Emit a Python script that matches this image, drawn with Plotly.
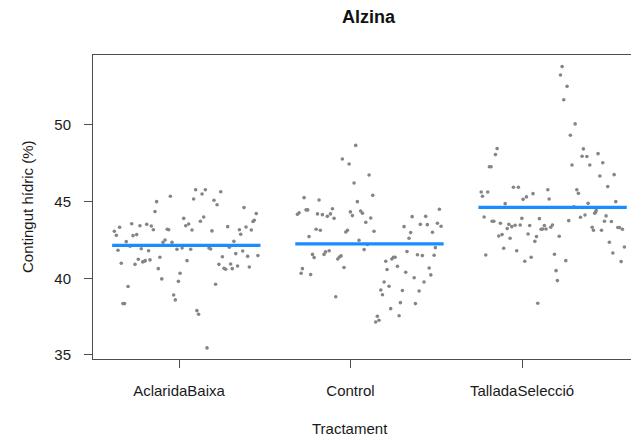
import plotly.graph_objects as go

categories = ["AclaridaBaixa", "Control", "TalladaSelecció"]

# Contingut hídric (%) per tractament
vals_aclarida = [43.07, 42.80, 43.33, 41.83, 40.98, 38.35, 38.35, 42.39, 39.46, 42.09,
                 43.56, 42.78, 40.91, 42.85, 41.24, 43.43, 41.93, 41.07, 41.11, 41.15,
                 43.52, 41.80, 41.20, 43.41, 43.17, 44.35, 45.00, 40.63, 41.37, 39.96,
                 42.35, 42.50, 43.20, 43.17, 45.35, 42.35, 38.91, 38.59, 41.89, 39.80,
                 40.33, 41.98, 43.91, 43.43, 41.15, 43.54, 41.89, 43.15, 45.17, 45.78,
                 37.89, 37.65, 43.72, 45.50, 44.00, 45.78, 35.46, 41.98, 41.91, 43.09,
                 45.09, 39.61, 44.80, 40.91, 45.65, 41.41, 40.65, 40.59, 43.37, 42.02,
                 40.93, 40.63, 42.41, 41.61, 40.80, 43.17, 42.87, 41.78, 44.61, 43.35,
                 41.43, 40.74, 43.15, 43.70, 43.78, 44.22, 41.48]
jit_aclarida = [-0.393, -0.382, -0.364, -0.373, -0.355, -0.346, -0.337, -0.328, -0.318, -0.307,
                -0.298, -0.291, -0.280, -0.271, -0.262, -0.253, -0.246, -0.238, -0.229, -0.224,
                -0.216, -0.206, -0.198, -0.191, -0.180, -0.171, -0.162, -0.153, -0.144, -0.134,
                -0.127, -0.116, -0.104, -0.096, -0.087, -0.078, -0.069, -0.060, -0.051, -0.043,
                -0.034, -0.023, -0.014, -0.003, 0.004, 0.013, 0.024, 0.031, 0.040, 0.051,
                0.058, 0.067, 0.077, 0.086, 0.095, 0.104, 0.113, 0.124, 0.133, 0.140,
                0.151, 0.160, 0.168, 0.178, 0.188, 0.197, 0.206, 0.215, 0.226, 0.235,
                0.242, 0.251, 0.260, 0.270, 0.280, 0.290, 0.297, 0.308, 0.315, 0.326,
                0.335, 0.344, 0.355, 0.364, 0.371, 0.382, 0.391]

vals_control = [44.17, 44.28, 40.33, 40.63, 45.26, 44.46, 44.46, 42.72, 40.24, 41.56,
                41.35, 43.20, 44.20, 45.11, 43.13, 44.15, 41.56, 41.72, 44.04, 41.80,
                44.20, 44.54, 43.91, 38.80, 41.26, 41.39, 41.46, 47.78, 40.70, 43.02,
                43.13, 47.46, 44.33, 44.09, 46.22, 48.67, 45.00, 42.48, 44.39, 44.24,
                41.87, 43.65, 42.20, 46.74, 43.93, 45.41, 43.07, 37.15, 37.52, 37.26,
                39.24, 38.93, 39.76, 41.11, 40.57, 39.48, 38.02, 41.26, 41.37, 41.37,
                40.78, 37.56, 38.41, 39.20, 43.37, 40.39, 41.74, 42.61, 42.98, 44.02,
                40.04, 38.35, 41.54, 39.17, 43.52, 41.48, 39.76, 44.04, 43.50, 40.67,
                40.22, 43.00, 41.50, 42.00, 43.59, 44.50, 43.39]
jit_control = [-0.393, -0.384, -0.373, -0.366, -0.357, -0.346, -0.337, -0.330, -0.321, -0.311,
               -0.302, -0.291, -0.284, -0.275, -0.268, -0.257, -0.248, -0.240, -0.230, -0.220,
               -0.213, -0.202, -0.193, -0.184, -0.173, -0.164, -0.155, -0.148, -0.139, -0.129,
               -0.120, -0.111, -0.104, -0.093, -0.084, -0.075, -0.066, -0.057, -0.048, -0.038,
               -0.029, -0.020, -0.011, -0.002, 0.007, 0.018, 0.025, 0.034, 0.043, 0.052,
               0.062, 0.071, 0.080, 0.089, 0.096, 0.107, 0.116, 0.122, 0.131, 0.140,
               0.153, 0.162, 0.169, 0.180, 0.189, 0.198, 0.205, 0.216, 0.225, 0.233,
               0.244, 0.251, 0.262, 0.271, 0.278, 0.289, 0.298, 0.307, 0.316, 0.326,
               0.335, 0.344, 0.353, 0.360, 0.371, 0.382, 0.391]

vals_tallada = [45.63, 45.35, 44.00, 41.52, 45.63, 47.28, 47.28, 43.72, 43.72, 48.07,
                48.46, 42.76, 43.59, 42.85, 41.96, 44.87, 43.24, 43.52, 42.61, 43.37,
                45.94, 43.46, 41.80, 45.94, 43.48, 43.91, 45.15, 41.11, 45.31, 42.89,
                43.44, 41.37, 45.52, 42.41, 42.72, 38.37, 43.89, 43.20, 43.22, 43.44,
                43.22, 45.78, 45.17, 43.33, 43.48, 41.57, 40.50, 39.85, 42.74, 53.26,
                53.81, 51.65, 41.15, 52.52, 43.76, 49.33, 47.39, 44.67, 50.07, 45.78,
                45.54, 43.98, 47.96, 48.44, 44.13, 47.94, 44.89, 47.39, 43.33, 43.13,
                44.24, 44.30, 44.43, 48.13, 46.67, 43.13, 47.54, 43.72, 44.07, 45.98,
                42.35, 43.70, 41.65, 46.76, 45.00, 43.31, 43.31, 41.09, 43.20, 42.04]
jit_tallada = [-0.390, -0.383, -0.374, -0.365, -0.354, -0.345, -0.336, -0.330, -0.321, -0.312,
               -0.303, -0.294, -0.285, -0.276, -0.267, -0.259, -0.248, -0.239, -0.232, -0.223,
               -0.214, -0.205, -0.196, -0.187, -0.177, -0.168, -0.161, -0.152, -0.143, -0.134,
               -0.125, -0.117, -0.107, -0.097, -0.088, -0.081, -0.072, -0.063, -0.054, -0.045,
               -0.036, -0.026, -0.019, -0.010, -0.001, 0.010, 0.019, 0.026, 0.036, 0.043,
               0.052, 0.061, 0.072, 0.079, 0.088, 0.097, 0.106, 0.116, 0.123, 0.132,
               0.141, 0.152, 0.161, 0.168, 0.177, 0.187, 0.194, 0.203, 0.216, 0.223,
               0.230, 0.234, 0.238, 0.248, 0.258, 0.267, 0.274, 0.283, 0.292, 0.301,
               0.310, 0.321, 0.329, 0.336, 0.345, 0.356, 0.365, 0.374, 0.381, 0.392]

group_means = [42.15, 42.24, 44.63]

y_ticks = [35, 40, 45, 50]

# ---------------------------------------------------------------- layout
# The page body has an 8px margin, so the figure is placed at (8, 8) in the window.
OFF = 8
WIN_W, WIN_H = 639, 438
W, H = WIN_W - OFF, WIN_H - OFF
# desired plot-area edges in window pixels
L_PX, R_PX, T_PX, B_PX = 93, 639, 55, 359
ML, MR, MT, MB = L_PX - OFF, 0, T_PX - OFF, (WIN_H - B_PX)
PW, PH = W - ML - MR, H - MT - MB
FONT = "Liberation Sans, Arial, sans-serif"
FRAME = "#4d4d4d"
POINT = "#858585"
BLUE = "#1a8cff"

def px_x(p):
    return (p - OFF - ML) / PW

def px_y(p):
    return 1 - (p - OFF - MT) / PH

series_vals = [vals_aclarida, vals_control, vals_tallada]
series_jit = [jit_aclarida, jit_control, jit_tallada]
half = 0.405

fig = go.Figure()
for gi, (vals, jit) in enumerate(zip(series_vals, series_jit)):
    pos = gi + 1
    fig.add_trace(go.Scatter(
        x=[pos + j for j in jit], y=vals, mode="markers",
        marker=dict(color=POINT, size=3.6, line=dict(width=0)),
        xaxis="x2", yaxis="y", showlegend=False, hoverinfo="y"))
for gi, m in enumerate(group_means):
    pos = gi + 1
    fig.add_trace(go.Scatter(
        x=[pos - half, pos + half], y=[m, m], mode="lines",
        line=dict(color=BLUE, width=3.2),
        xaxis="x2", yaxis="y", showlegend=False, hoverinfo="y"))

# invisible trace to anchor the tick axis
fig.add_trace(go.Scatter(x=[1, 2, 3], y=[None, None, None], mode="markers",
                         xaxis="x", yaxis="y", showlegend=False, hoverinfo="skip"))

fig.update_layout(
    width=W, height=H,
    margin=dict(l=ML, r=MR, t=MT, b=MB, pad=0),
    paper_bgcolor="white", plot_bgcolor="white",
    font=dict(family=FONT, size=15, color="#1a1a1a"),
    xaxis=dict(
        range=[0.4985, 3.682], tickmode="array",
        tickvals=[i + 1 for i in range(len(categories))], ticktext=categories,
        showgrid=False, zeroline=False, showline=True, mirror=True,
        linecolor=FRAME, linewidth=1, ticks="outside", ticklen=8,
        tickcolor=FRAME, tickwidth=1, ticklabelstandoff=10,
        tickfont=dict(size=15, family=FONT, color="#1a1a1a")),
    xaxis2=dict(
        range=[0.4906, 3.4717], overlaying="x", anchor="y",
        visible=False, showgrid=False, zeroline=False),
    yaxis=dict(
        range=[34.735, 54.566], tickmode="array", tickvals=y_ticks,
        showgrid=False, zeroline=False, showline=True, mirror=False,
        linecolor=FRAME, linewidth=1, ticks="outside", ticklen=8,
        tickcolor=FRAME, tickwidth=1, ticklabelstandoff=10,
        tickfont=dict(size=15, family=FONT, color="#1a1a1a")),
    annotations=[
        dict(text="<b>Alzina</b>", x=px_x(369), y=px_y(17), xref="paper", yref="paper",
             showarrow=False, xanchor="center", yanchor="middle",
             font=dict(size=18, family=FONT, color="#111")),
        dict(text="Contingut hídric (%)", x=px_x(27), y=px_y(207), xref="paper", yref="paper",
             showarrow=False, xanchor="center", yanchor="middle", textangle=-90,
             font=dict(size=15, family=FONT, color="#1a1a1a")),
        dict(text="Tractament", x=px_x(350), y=px_y(428), xref="paper", yref="paper",
             showarrow=False, xanchor="center", yanchor="middle",
             font=dict(size=15, family=FONT, color="#1a1a1a")),
    ],
)

fig.write_html("out.html")
